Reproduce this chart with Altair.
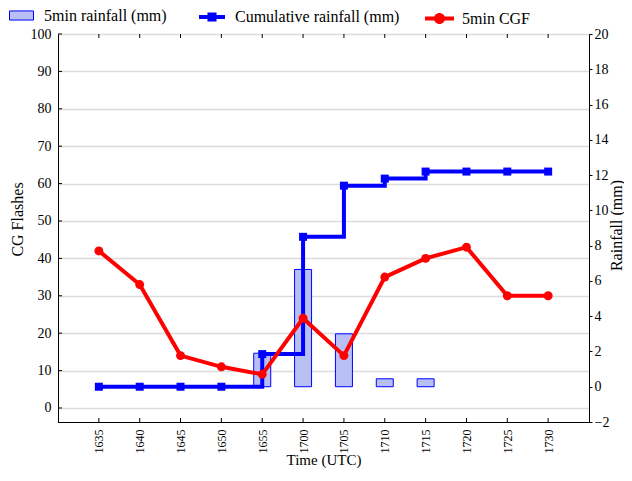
import altair as alt
import pandas as pd

times = ["1635", "1640", "1645", "1650", "1655", "1700", "1705", "1710", "1715", "1720", "1725", "1730"]
cgf = [42, 33, 14, 11, 9, 24, 14, 35, 40, 43, 30, 30]
cum_rain = [0, 0, 0, 0, 1.85, 8.5, 11.4, 11.8, 12.2, 12.2, 12.2, 12.2]
rain5 = [None, None, None, None, 1.9, 6.65, 3.0, 0.45, 0.45, None, None, None]
left_ticks = [0, 10, 20, 30, 40, 50, 60, 70, 80, 90, 100]
right_ticks = [-2, 0, 2, 4, 6, 8, 10, 12, 14, 16, 18, 20]

S_BAR = "5min rainfall (mm)"
S_CUM = "Cumulative rainfall (mm)"
S_CGF = "5min CGF"

df = pd.DataFrame({
    "time": times,
    "cgf": cgf,
    "cum": cum_rain,
    "rain5": rain5,
    "s_bar": S_BAR,
    "s_cum": S_CUM,
    "s_cgf": S_CGF,
})
ticks_df = pd.DataFrame({"v": left_ticks})

FONT = "Liberation Serif"
W, H = 531, 388

rain_scale = alt.Scale(domain=[-2, 20], nice=False, zero=False)
cgf_scale = alt.Scale(domain=[-3.75, 100], nice=False, zero=False)


def xenc():
    return alt.X("time:O", sort=times,
                 scale=alt.Scale(type="point", padding=1),
                 axis=alt.Axis(title="Time (UTC)", labelAngle=270, ticks=False,
                               tickSize=0, labelPadding=7, labelFontSize=12,
                               titleFontSize=15, titleY=42, titleBaseline="alphabetic",
                               domainColor="black", grid=False))


base = alt.Chart(df)

bars = base.mark_bar(size=17, stroke="#0000ff", strokeWidth=1).encode(
    x=xenc(),
    y=alt.Y("rain5:Q", scale=rain_scale,
            axis=alt.Axis(orient="right", values=right_ticks, title="Rainfall (mm)",
                          titleAngle=270, titleBaseline="alphabetic", titleX=32, titleY=191,
                          tickSize=3, labelPadding=2,
                          labelFontSize=14, titleFontSize=16, grid=False,
                          domainColor="black", tickColor="black")),
    y2=alt.datum(0),
    color=alt.Color("s_bar:N", scale=alt.Scale(domain=[S_BAR], range=["#b8c0f3"]),
                    legend=alt.Legend(orient="none", legendX=-49, legendY=-31, title=None,
                                      symbolType="M-1,-0.38H1V0.38H-1Z", symbolSize=576,
                                      symbolStrokeColor="#0000ff", symbolStrokeWidth=1,
                                      labelOffset=10, labelFontSize=16, labelFont=FONT,
                                      labelLimit=400, padding=0)),
)

cum_line = base.mark_line(color="#0000ff", strokeWidth=4, interpolate="step-after").encode(
    x=xenc(),
    y=alt.Y("cum:Q", scale=rain_scale, axis=None),
)

cum_pts = base.mark_point(shape="square", filled=True, size=64, opacity=1).encode(
    x=xenc(),
    y=alt.Y("cum:Q", scale=rain_scale, axis=None),
    color=alt.Color("s_cum:N", scale=alt.Scale(domain=[S_CUM], range=["#0000ff"]),
                    legend=alt.Legend(orient="none", legendX=140, legendY=-31, title=None,
                                      symbolType="M-1,-0.15H1V0.15H-1Z M-0.35,-0.35H0.35V0.35H-0.35Z",
                                      symbolSize=676, labelOffset=9, labelFontSize=16,
                                      labelFont=FONT, labelLimit=400, padding=0)),
)

cgf_line = base.mark_line(color="#ff0000", strokeWidth=4).encode(
    x=xenc(),
    y=alt.Y("cgf:Q", scale=cgf_scale,
            axis=alt.Axis(orient="left", values=left_ticks, title="CG Flashes",
                          tickSize=0, labelPadding=7, labelFontSize=14,
                          titleFontSize=16, titlePadding=5, titleY=185, grid=True,
                          gridColor="#dcdcdc", gridWidth=1.5,
                          domainColor="black")),
)

cgf_pts = base.mark_point(shape="circle", filled=True, size=80, opacity=1).encode(
    x=xenc(),
    y=alt.Y("cgf:Q", scale=cgf_scale, axis=None),
    color=alt.Color("s_cgf:N", scale=alt.Scale(domain=[S_CGF], range=["#ff0000"]),
                    legend=alt.Legend(orient="none", legendX=366, legendY=-31, title=None,
                                      symbolType="M-1,-0.14H1V0.14H-1Z M-0.38,0A0.38,0.38 0 1,1 0.38,0A0.38,0.38 0 1,1 -0.38,0Z",
                                      symbolSize=841, labelOffset=7, labelFontSize=16,
                                      labelFont=FONT, labelLimit=400, padding=0)),
)

bottom_ticks = base.mark_rule(color="black", strokeWidth=1).encode(
    x=xenc(), y=alt.value(H - 4), y2=alt.value(H))
top_ticks = base.mark_rule(color="black", strokeWidth=1).encode(
    x=xenc(), y=alt.value(0), y2=alt.value(4))
left_tick_marks = alt.Chart(ticks_df).mark_rule(color="black", strokeWidth=1).encode(
    x=alt.value(0), x2=alt.value(4),
    y=alt.Y("v:Q", scale=cgf_scale, axis=None))

chart = alt.layer(
    bars, cum_line, cum_pts, cgf_line, cgf_pts, bottom_ticks, top_ticks, left_tick_marks
).resolve_scale(
    y="independent", color="independent"
).resolve_legend(
    color="independent"
).properties(
    width=W, height=H,
    autosize=alt.AutoSizeParams(type="none"),
    padding={"left": 50, "top": 26, "right": 35, "bottom": 46},
).configure_view(
    stroke="black", strokeWidth=1
).configure_axis(
    labelFont=FONT, titleFont=FONT, labelColor="black", titleColor="black",
    titleFontWeight="normal"
).configure_legend(
    labelColor="black"
)

chart.save("out.html", embed_options={"renderer": "svg", "actions": False})
